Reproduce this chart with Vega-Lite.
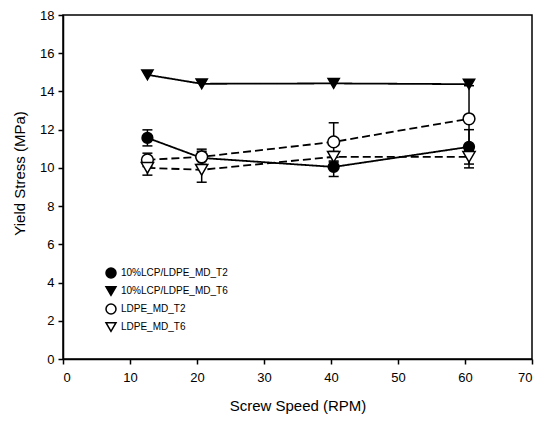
{
  "$schema": "https://vega.github.io/schema/vega-lite/v6.json",
  "width": 469,
  "height": 344,
  "autosize": {"type": "none"},
  "padding": {"left": 63, "top": 15, "right": 5, "bottom": 63},
  "background": "white",
  "config": {
    "view": {"stroke": "black", "strokeWidth": 1.5},
    "axis": {
      "grid": false,
      "domainColor": "black",
      "domainWidth": 1.5,
      "tickColor": "black",
      "tickWidth": 1.5,
      "tickSize": 5,
      "labelFont": "Liberation Sans",
      "labelFontSize": 13,
      "labelColor": "black",
      "titleFont": "Liberation Sans",
      "titleFontSize": 15,
      "titleFontWeight": "normal",
      "titleColor": "black"
    }
  },
  "datasets": {
    "main": [
      {"series": "10%LCP/LDPE_MD_T2", "rpm": 12.6, "stress": 11.57, "lo": 11.15, "hi": 11.99},
      {"series": "10%LCP/LDPE_MD_T2", "rpm": 20.7, "stress": 10.52, "lo": 10.17, "hi": 10.87},
      {"series": "10%LCP/LDPE_MD_T2", "rpm": 40.4, "stress": 10.05, "lo": 9.55, "hi": 10.55},
      {"series": "10%LCP/LDPE_MD_T2", "rpm": 60.6, "stress": 11.1, "lo": 10.2, "hi": 12.0},
      {"series": "10%LCP/LDPE_MD_T6", "rpm": 12.6, "stress": 14.87, "lo": 14.87, "hi": 14.87},
      {"series": "10%LCP/LDPE_MD_T6", "rpm": 20.7, "stress": 14.4, "lo": 14.4, "hi": 14.4},
      {"series": "10%LCP/LDPE_MD_T6", "rpm": 40.4, "stress": 14.42, "lo": 14.42, "hi": 14.42},
      {"series": "10%LCP/LDPE_MD_T6", "rpm": 60.6, "stress": 14.38, "lo": 14.38, "hi": 14.38},
      {"series": "LDPE_MD_T2", "rpm": 12.6, "stress": 10.42, "lo": 10.07, "hi": 10.77},
      {"series": "LDPE_MD_T2", "rpm": 20.7, "stress": 10.58, "lo": 10.18, "hi": 10.98},
      {"series": "LDPE_MD_T2", "rpm": 40.4, "stress": 11.36, "lo": 10.36, "hi": 12.36},
      {"series": "LDPE_MD_T2", "rpm": 60.6, "stress": 12.57, "lo": 10.9, "hi": 14.3},
      {"series": "LDPE_MD_T6", "rpm": 12.6, "stress": 10.0, "lo": 9.62, "hi": 10.38},
      {"series": "LDPE_MD_T6", "rpm": 20.7, "stress": 9.9, "lo": 9.25, "hi": 10.55},
      {"series": "LDPE_MD_T6", "rpm": 40.4, "stress": 10.58, "lo": 10.3, "hi": 10.86},
      {"series": "LDPE_MD_T6", "rpm": 60.6, "stress": 10.58, "lo": 10.0, "hi": 11.16}
    ]
  },
  "data": {"name": "main"},
  "encoding": {
    "x": {
      "field": "rpm", "type": "quantitative",
      "scale": {"domain": [0, 70], "nice": false},
      "axis": {"title": "Screw Speed (RPM)", "values": [0, 10, 20, 30, 40, 50, 60, 70], "labelPadding": 7, "titlePadding": 14}
    },
    "y": {
      "field": "stress", "type": "quantitative",
      "scale": {"domain": [0, 18], "nice": false},
      "axis": {"title": "Yield Stress (MPa)", "values": [0, 2, 4, 6, 8, 10, 12, 14, 16, 18], "labelPadding": 4, "titlePadding": 12, "titleY": 158}
    }
  },
  "resolve": {"legend": {"shape": "independent", "fill": "independent"}},
  "layer": [
    {
      "mark": {"type": "line", "color": "black", "strokeWidth": 1.8},
      "encoding": {
        "detail": {"field": "series", "type": "nominal"},
        "strokeDash": {
          "field": "series", "type": "nominal",
          "scale": {"domain": ["10%LCP/LDPE_MD_T2", "10%LCP/LDPE_MD_T6", "LDPE_MD_T2", "LDPE_MD_T6"], "range": [[1, 0], [1, 0], [8, 4], [8, 4]]},
          "legend": null
        }
      }
    },
    {
      "transform": [{"filter": "datum.hi > datum.lo"}],
      "mark": {"type": "rule", "color": "black", "strokeWidth": 1.5},
      "encoding": {
        "y": {"field": "lo", "type": "quantitative"},
        "y2": {"field": "hi"}
      }
    },
    {
      "transform": [{"filter": "datum.hi > datum.lo"}],
      "mark": {"type": "tick", "orient": "horizontal", "size": 10, "thickness": 1.5, "color": "black", "opacity": 1},
      "encoding": {"y": {"field": "lo", "type": "quantitative"}}
    },
    {
      "transform": [{"filter": "datum.hi > datum.lo"}],
      "mark": {"type": "tick", "orient": "horizontal", "size": 10, "thickness": 1.5, "color": "black", "opacity": 1},
      "encoding": {"y": {"field": "hi", "type": "quantitative"}}
    },
    {
      "mark": {"type": "point", "filled": true, "stroke": "black", "strokeWidth": 1.5, "opacity": 1},
      "encoding": {
        "shape": {
          "field": "series", "type": "nominal",
          "scale": {
            "domain": ["10%LCP/LDPE_MD_T2", "10%LCP/LDPE_MD_T6", "LDPE_MD_T2", "LDPE_MD_T6"],
            "range": ["circle", "triangle-down", "circle", "triangle-down"]
          },
          "legend": {"title": null, "orient": "none", "legendX": 42, "legendY": 252}
        },
        "size": {
          "field": "series", "type": "nominal",
          "scale": {
            "domain": ["10%LCP/LDPE_MD_T2", "10%LCP/LDPE_MD_T6", "LDPE_MD_T2", "LDPE_MD_T6"],
            "range": [115, 150, 115, 150]
          },
          "legend": null
        },
        "fill": {
          "field": "series", "type": "nominal",
          "scale": {
            "domain": ["10%LCP/LDPE_MD_T2", "10%LCP/LDPE_MD_T6", "LDPE_MD_T2", "LDPE_MD_T6"],
            "range": ["black", "black", "white", "white"]
          },
          "legend": null
        }
      }
    }
  ]
}
